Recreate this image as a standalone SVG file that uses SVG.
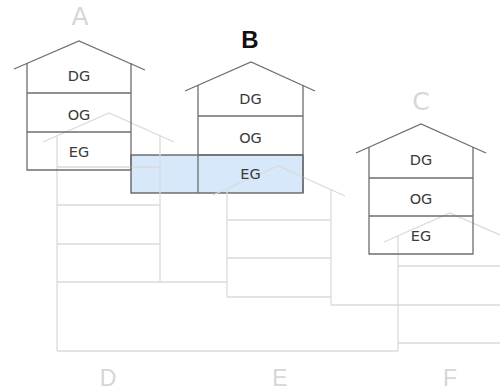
<svg xmlns="http://www.w3.org/2000/svg" width="500" height="392" viewBox="0 0 500 392">
<style>
.g{fill:none;stroke:#dadada;stroke-width:1.3}
.d{fill:none;stroke:#6e6e6e;stroke-width:1.3}
.t{font-family:"DejaVu Sans","Liberation Sans",sans-serif;font-size:14.5px;fill:#3a3a3a;text-anchor:middle}
.L{font-family:"DejaVu Sans","Liberation Sans",sans-serif;font-size:25px;fill:#d6d6d6;text-anchor:middle}
.Lb{font-family:"Liberation Sans",Arial,sans-serif;font-size:23px;fill:#d6d6d6;text-anchor:middle}
</style>
<rect width="500" height="392" fill="#ffffff"/>
<g id="blue">
<rect x="131" y="155" width="172" height="38" fill="#d6e8fa" stroke="#5a5a5a" stroke-width="1.3"/>
</g>
<g id="D">
<polyline class="g" points="43,142 109,113 174,142"/>
<path class="g" d="M57,135V351M160,135V282M57,167H160M57,205H160M57,244H160M57,282H227M57,351H398"/>
<text class="Lb" x="108" y="386">D</text>
</g>
<g id="E">
<polyline class="g" points="213,195 278,166 345,196"/>
<path class="g" d="M227,189V297M331,189V305M227,220H331M227,258H331M227,297H331M331,305H500"/>
<text class="Lb" x="280" y="386">E</text>
</g>
<g id="F">
<polyline class="g" points="384,242 450,213 516,242"/>
<path class="g" d="M398,236V351M398,266H500M398,343H500"/>
<text class="Lb" x="450" y="386">F</text>
</g>
<g id="A">
<polyline class="d" points="14,69 79,41 145,70"/>
<path class="d" d="M27,63V170H131V63M27,93H131M27,132H131"/>
<text class="t" x="79" y="81">DG</text>
<text class="t" x="79" y="120">OG</text>
<text class="t" x="79" y="157">EG</text>
<text class="L" x="80" y="25">A</text>
</g>
<g id="B">
<polyline class="d" points="185,91 251,62 315,91"/>
<path class="d" d="M198,85V193M303,85V193M198,116H303M198,155H303"/>
<text class="t" x="250.5" y="104">DG</text>
<text class="t" x="250.5" y="143">OG</text>
<text class="t" x="250.5" y="179">EG</text>
<text x="250" y="48" font-family="Liberation Sans, Arial, sans-serif" font-size="24" font-weight="bold" fill="#111" text-anchor="middle">B</text>
</g>
<g id="C">
<polyline class="d" points="356,153 421,124 486,153"/>
<path class="d" d="M369,147V254H473V147M369,178H473M369,216H473"/>
<text class="t" x="421" y="165">DG</text>
<text class="t" x="421" y="204">OG</text>
<text class="t" x="421" y="241">EG</text>
<text class="L" x="421" y="110">C</text>
</g>
<g id="connectors"/>
</svg>
